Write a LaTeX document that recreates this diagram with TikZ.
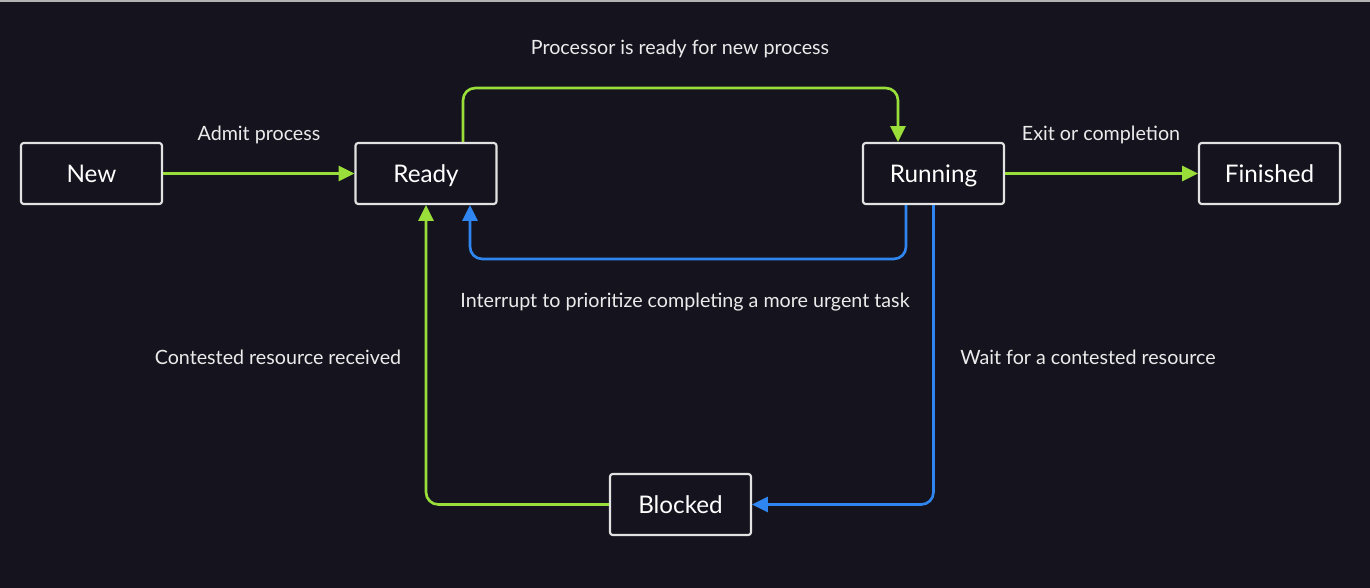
\documentclass[tikz,border=0pt]{standalone}
\usepackage{fontspec}
\setmainfont{Lato}
\usetikzlibrary{positioning}
\usetikzlibrary{arrows.meta}
\definecolor{bgColor}{HTML}{15141E}
\definecolor{edgeColor}{HTML}{E2E2E2}
\definecolor{okColor}{HTML}{9ADE3A}
\definecolor{waitColor}{HTML}{2F86F0}

\begin{document}
\begin{tikzpicture}[x=0.02cm, y=-0.02cm,
    state/.style={draw=edgeColor, line width=1.2pt, rounded corners=1.5pt, fill=bgColor,
      minimum width=2.82cm, minimum height=1.22cm, text=white, text height=10pt, text depth=0pt,
      font=\fontsize{13.8}{16}\selectfont},
    lbl/.style={text=white!92!black, font=\fontsize{11.2}{13}\selectfont},
    fwd/.style={color=okColor, line width=1.5pt, rounded corners=7pt, -{Triangle[length=9pt,width=8.5pt]}},
    back/.style={color=waitColor, line width=1.5pt, rounded corners=7pt, -{Triangle[length=9pt,width=8.5pt]}}]
          \fill[bgColor] (0,0) rectangle (1370,588);
          \fill[gray!60] (0,0) rectangle (1370,2);
          \node[state] (new) at (91.5,173.5) {New};
          \node[state] (ready) at (426,173.5) {Ready};
          \node[state] (running) at (933.5,173.5) {Running};
          \node[state] (finished) at (1269.5,173.5) {Finished};
          \node[state] (blocked) at (680.5,504.5) {Blocked};
          \draw[fwd] (new) -- (ready);
          \draw[fwd] (running) -- (finished);
          \draw[fwd] ([xshift=0.74cm]ready.north) |- (680,88) -| ([xshift=-0.71cm]running.north);
          \draw[back] ([xshift=-0.55cm]running.south) |- (680,259) -| ([xshift=0.88cm]ready.south);
          \draw[back] (running.south) |- (blocked.east);
          \draw[fwd] (blocked.west) -| (ready.south);
          \node[lbl] (ready4new) at (680,49) {Processor is ready for new process};
          \node[lbl] (admit) at (259,135) {Admit process};
          \node[lbl] (exit) at (1101,135) {Exit or completion};
          \node[lbl] (interrupt) at (685,302) {Interrupt to prioritize completing a more urgent task};
          \node[lbl] (received) at (278,357) {Contested resource received};
          \node[lbl] (wait) at (1088,357) {Wait for a contested resource};
        \end{tikzpicture}
\end{document}
